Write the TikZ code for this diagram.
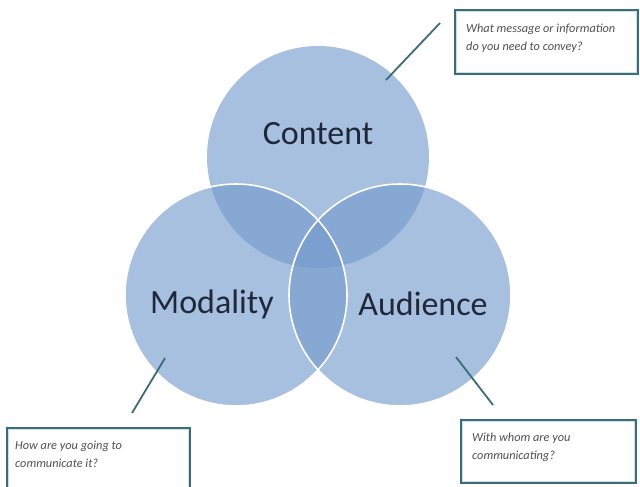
\documentclass[tikz,border=0pt]{standalone}
\usepackage{fontspec}
\setmainfont{Carlito}
\usepackage{xcolor}
\usetikzlibrary{positioning}
\definecolor{vennblue}{RGB}{115,153,203}
\definecolor{venntext}{RGB}{30,40,58}
\definecolor{boxedge}{RGB}{62,108,118}
\definecolor{boxglow}{RGB}{200,226,236}
\definecolor{notegray}{RGB}{80,80,80}

\tikzset{
  venn/.style={circle, fill=vennblue, fill opacity=0.62, minimum size=222pt, inner sep=0pt},
  vennrim/.style={circle, draw=white, line width=1.6pt, minimum size=222pt, inner sep=0pt},
  vennlabel/.style={text=venntext, font=\fontsize{34}{40}\selectfont},
  notebox/.style={draw=boxedge, line width=1.8pt, fill=white, inner sep=0pt, anchor=north west,
    path picture={\draw[boxglow, line width=4pt]
      (path picture bounding box.south west) rectangle (path picture bounding box.north east);}},
  notetext/.style={text=notegray, font=\itshape\fontsize{12.3}{18}\selectfont, align=left,
    anchor=north west, inner sep=0pt},
  leader/.style={draw=boxedge, line width=1.8pt}
}

\begin{document}
\begin{tikzpicture}[x=1pt, y=-1pt]
    \useasboundingbox (0,0) rectangle (640,487);
    \clip (0,0) rectangle (640,487);

    % the three circles
    \node[venn] (content) at (318,157) {};
    \node[venn] (modality) at (236,295) {};
    \node[venn] (audience) at (400,295) {};
    \foreach \c in {modality, audience}
      \node[vennrim] at (\c) {};

    \node[vennlabel] (contentlbl) at (318,134) {Content};
    \node[vennlabel] (modalitylbl) at (212,304) {Modality};
    \node[vennlabel] (audiencelbl) at (423,304) {Audience};

    % note boxes
    \node[notebox, minimum width=183pt, minimum height=64pt] (contentnote) at (454,9) {};
    \node[notetext, below right=15pt and 12pt of contentnote.north west] {What message or information\\do you need to convey?};

    \node[notebox, minimum width=183pt, minimum height=80pt] (modalitynote) at (6,427) {};
    \node[notetext, below right=14pt and 9pt of modalitynote.north west] {How are you going to\\communicate it?};

    \node[notebox, minimum width=175pt, minimum height=63pt] (audiencenote) at (460,419) {};
    \node[notetext, below right=14pt and 12pt of audiencenote.north west] {With whom are you\\communicating?};

    % leader lines
    \coordinate (c1) at (386,80);
    \coordinate (c2) at (440,23);
    \coordinate (m1) at (165,358);
    \coordinate (m2) at (132,413);
    \coordinate (a1) at (456,357);
    \coordinate (a2) at (493,405);
    \draw[leader] (c1) -- (c2);
    \draw[leader] (m1) -- (m2);
    \draw[leader] (a1) -- (a2);
\end{tikzpicture}
\end{document}
